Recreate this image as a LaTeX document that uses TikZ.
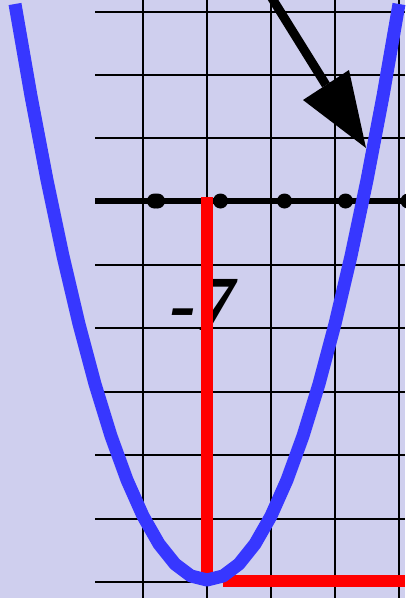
\documentclass[tikz,border=0pt]{standalone}
\usepackage{fontspec}
\newfontfamily\lblfont{Liberation Serif}
\definecolor{bgc}{RGB}{207,207,238}
\definecolor{curveblue}{RGB}{55,55,255}
\begin{document}
\begin{tikzpicture}[x=1pt,y=-1pt,
  gridline/.style={black,line width=2pt},
  axisline/.style={black,line width=6.5pt},
  dotmark/.style={black,fill=black},
  redline/.style={red,line width=12pt},
  curve/.style={curveblue,line width=13pt,line join=round},
  arrowshaft/.style={black,line width=9pt},
  lbl/.style={inner sep=0pt,font=\fontsize{78}{78}\selectfont\lblfont\bfseries\itshape}]
\fill[bgc] (0,0) rectangle (405,598);
\useasboundingbox (0,0) rectangle (405,598);
% grid
\foreach \y in {12,75,138,265,328,392,455,519,582}
  \draw[gridline] (95,\y) -- (405,\y);
\foreach \x in {143,207,271,335,399}
  \draw[gridline] (\x,0) -- (\x,598);
% axis with dots
\coordinate (axL) at (95,201);
\coordinate (axR) at (405,201);
\draw[axisline] (axL) -- (axR);
\foreach \x in {154.5,157.5,220.5,284.5,345.5,408}
  \fill[dotmark] (\x,201) circle (7.5);
% label
\node[lbl,anchor=base east] (lab) at (236,330) {-7};
% red lines
\coordinate (rTop) at (207,197);
\coordinate (rBot) at (207,578);
\coordinate (hL) at (223,581);
\coordinate (hR) at (405,581);
\draw[redline] (rTop) -- (rBot);
\draw[redline] (hL) -- (hR);
% arrow
\coordinate (aStart) at (270,-5);
\coordinate (aBase) at (326,85);
\coordinate (aTip) at (366,148);
\draw[arrowshaft] (aStart) -- (aBase);
\fill[black] (aTip) -- (303,100) -- (349,70) -- cycle;
% parabola
\draw[curve] plot[samples at={-3,-2.75,...,3}] ({207+64*\x},{580-64*\x*\x});
\end{tikzpicture}
\end{document}
